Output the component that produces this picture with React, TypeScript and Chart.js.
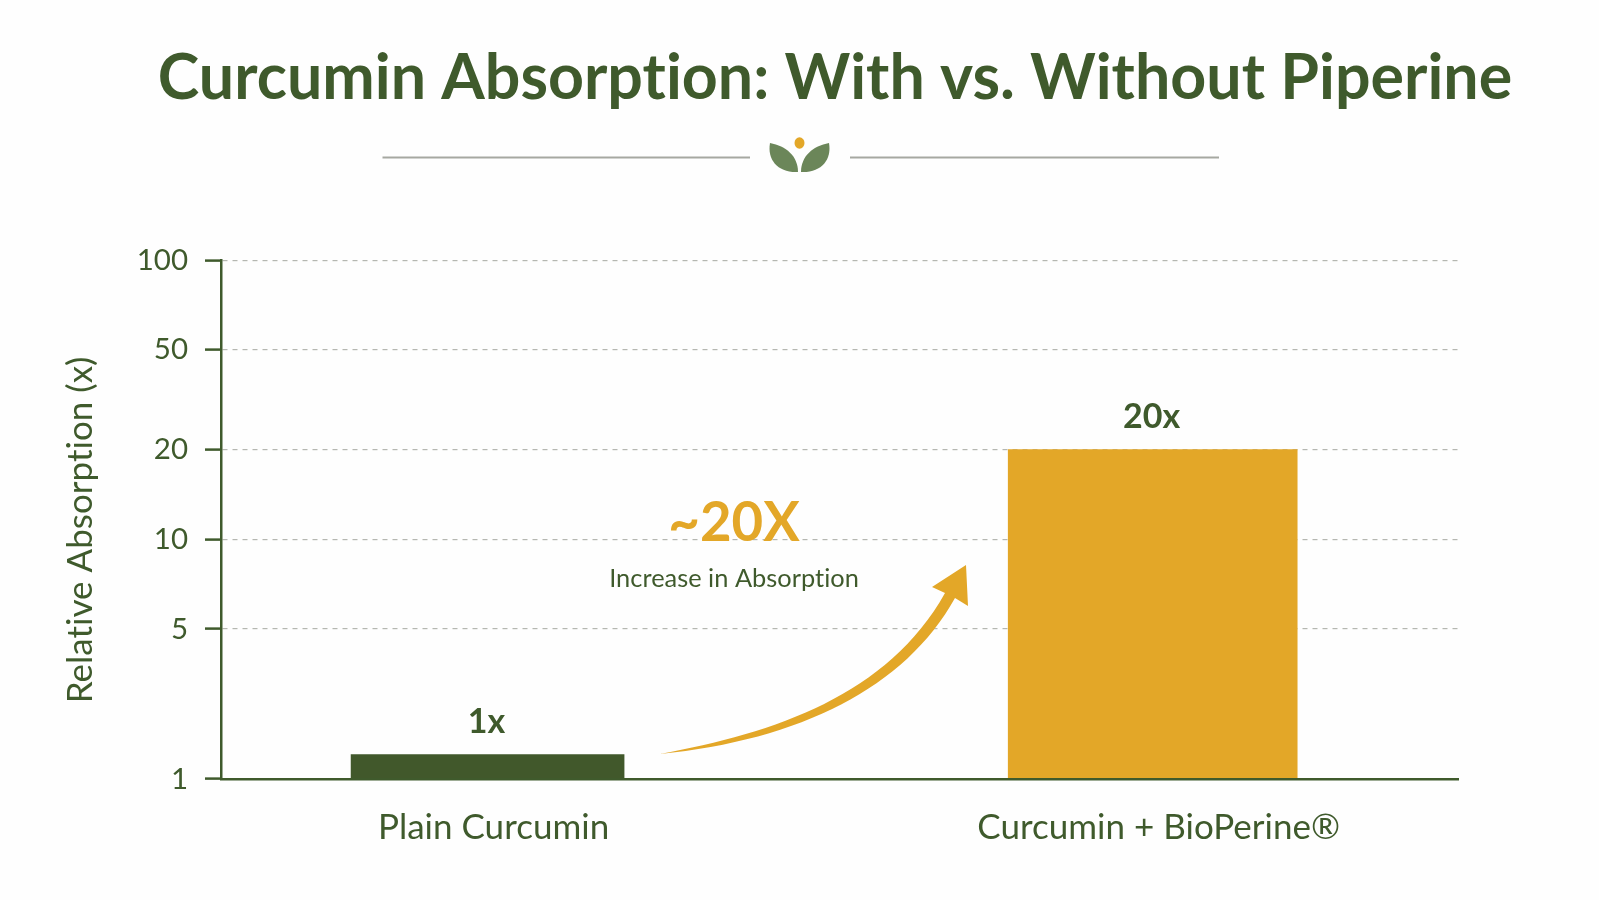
import React, { useEffect, useRef } from "react";
import { Chart, registerables, LogarithmicScale } from "chart.js";

Chart.register(...registerables);

const categories = ["Plain Curcumin", "Curcumin + BioPerine®"];
const categoryPositions = [0, 1];
const barValues = [1.3, 20];
const barLabels = ["1x", "20x"];
const yTicks = [1, 5, 10, 20, 50, 100];
// the source axis is hand-spaced, not strictly logarithmic: share of axis height per tick
const yTickShares = [0, 0.2893, 0.4625, 0.6357, 0.8285, 1];

const DARK = "#3f5a2c";
const GOLD = "#e3a728";
const FONT = "Lato, 'Open Sans', sans-serif";

class SpacedLogScale extends LogarithmicScale {
  static id = "spacedLog";
  static defaults = LogarithmicScale.defaults;
  getPixelForValue(value: number) {
    const v = Math.max(yTicks[0], Math.min(yTicks[yTicks.length - 1], value || yTicks[0]));
    let i = 0;
    while (i < yTicks.length - 2 && v > yTicks[i + 1]) i++;
    const f = (Math.log(v) - Math.log(yTicks[i])) / (Math.log(yTicks[i + 1]) - Math.log(yTicks[i]));
    return this.getPixelForDecimal(yTickShares[i] + f * (yTickShares[i + 1] - yTickShares[i]));
  }
  drawTitle() {
    const ctx = this.ctx;
    ctx.save();
    ctx.translate(0, 10);
    super.drawTitle();
    ctx.restore();
  }
}
Chart.register(SpacedLogScale);

const paperPlugin = {
  id: "paper",
  beforeDraw(chart: any) {
    const { ctx, width, height } = chart;
    // a non-zero spacing switches off Lato's "ti" ligature everywhere
    ctx.letterSpacing = "0.01px";
    ctx.save();
    ctx.fillStyle = "#fefefe";
    ctx.fillRect(0, 0, width, height);
    ctx.restore();
  },
};

const titleWidenPlugin = {
  id: "titleWiden",
  afterLayout(chart: any) {
    const t = chart.titleBlock;
    t.left = 35;
    t.right = 1635;
    t.width = 1600;
  },
};

const decorPlugin = {
  id: "decor",
  afterDatasetsDraw(chart: any) {
    const { ctx } = chart;
    ctx.save();
    // divider
    ctx.strokeStyle = "#a6a8a1";
    ctx.lineWidth = 1.8;
    ctx.beginPath();
    ctx.moveTo(382.5, 157.5);
    ctx.lineTo(750, 157.5);
    ctx.moveTo(850, 157.5);
    ctx.lineTo(1219, 157.5);
    ctx.stroke();
    // leaf mark
    ctx.fillStyle = "#6b8659";
    ctx.beginPath();
    ctx.moveTo(770, 143);
    ctx.bezierCurveTo(786, 146, 798, 156, 798, 172);
    ctx.bezierCurveTo(778, 173, 767, 160, 770, 143);
    ctx.closePath();
    ctx.fill();
    ctx.beginPath();
    ctx.moveTo(829, 143);
    ctx.bezierCurveTo(813, 146, 801, 156, 801, 172);
    ctx.bezierCurveTo(821, 173, 832, 160, 829, 143);
    ctx.closePath();
    ctx.fill();
    ctx.fillStyle = GOLD;
    ctx.beginPath();
    ctx.ellipse(799.5, 143, 5, 5.8, 0, 0, Math.PI * 2);
    ctx.fill();
    // value labels above the bars
    ctx.fillStyle = DARK;
    ctx.font = `700 34px ${FONT}`;
    ctx.textAlign = "center";
    ctx.textBaseline = "alphabetic";
    chart.data.datasets.forEach((_: any, i: number) => {
      const el = chart.getDatasetMeta(i).data[0];
      ctx.fillText(barLabels[i], el.x - 1, el.y - 22);
    });
    // callout
    ctx.fillStyle = GOLD;
    ctx.font = `700 54.5px ${FONT}`;
    ctx.fillText("~20X", 734, 541);
    ctx.fillStyle = DARK;
    ctx.font = `400 25.4px ${FONT}`;
    ctx.fillText("Increase in Absorption", 734, 587);
    // arrow
    ctx.fillStyle = GOLD;
    ctx.beginPath();
    ctx.moveTo(660, 754);
    ctx.bezierCurveTo(775, 733, 888, 695, 945, 593);
    ctx.lineTo(932, 587);
    ctx.lineTo(966, 565);
    ctx.lineTo(968, 606);
    ctx.lineTo(955, 598);
    ctx.bezierCurveTo(905, 688, 800, 740, 660, 754);
    ctx.closePath();
    ctx.fill();
    ctx.restore();
  },
};

export default function App() {
  const ref = useRef<HTMLCanvasElement>(null);
  useEffect(() => {
    const chart = new Chart(ref.current!, {
      type: "bar",
      data: {
        datasets: [
          {
            label: categories[0],
            data: [{ x: categoryPositions[0], y: barValues[0] }],
            backgroundColor: "#41582b",
            barThickness: 273,
            base: 1,
          },
          {
            label: categories[1],
            data: [{ x: categoryPositions[1], y: barValues[1] }],
            backgroundColor: GOLD,
            barThickness: 289,
            base: 1,
          },
        ],
      } as any,
      options: {
        responsive: false,
        animation: false,
        layout: { padding: { top: 0, left: 0, right: 141, bottom: 0 } },
        datasets: { bar: { grouped: false } },
        plugins: {
          legend: { display: false },
          tooltip: { enabled: false },
          title: {
            display: true,
            text: "Curcumin Absorption: With vs. Without Piperine",
            fullSize: false,
            color: DARK,
            font: { family: FONT, size: 62.7, weight: "700", lineHeight: 1.2 },
            padding: { top: 40.8, bottom: 144.7 },
          },
        },
        scales: {
          x: {
            type: "linear",
            min: -0.4008,
            max: 1.459,
            offset: false,
            grid: { display: false, offset: false },
            border: { color: DARK, width: 2.5, z: 1 },
            afterFit(s: any) {
              s.height = 121;
            },
            afterBuildTicks(s: any) {
              s.ticks = categoryPositions.map((value) => ({ value }));
            },
            ticks: {
              color: DARK,
              padding: 20,
              maxRotation: 0,
              autoSkip: false,
              labelOffset: 6,
              font: { family: FONT, size: 35 },
              callback: (v: any) => categories[v],
            },
          },
          y: {
            type: "spacedLog",
            min: 1,
            max: 100,
            afterFit(s: any) {
              s.width = 221;
            },
            afterBuildTicks(s: any) {
              s.ticks = yTicks.map((value) => ({ value }));
            },
            border: { color: DARK, width: 2.5, dash: [5, 5], z: 1 },
            grid: {
              z: -1,
              tickLength: 16,
              tickWidth: 2.5,
              tickColor: DARK,
              tickBorderDash: [],
              lineWidth: 1.2,
              color: (c: any) => (c.tick && c.tick.value === 1 ? "rgba(0,0,0,0)" : "#b5b7b1"),
            },
            ticks: {
              color: DARK,
              padding: 17,
              autoSkip: false,
              font: { family: FONT, size: 29.5 },
              callback: (v: any) => String(v),
            },
            title: {
              display: true,
              text: "Relative Absorption (x)",
              color: DARK,
              font: { family: FONT, size: 35 },
              padding: { top: 60, bottom: 0 },
            },
          },
        },
      } as any,
      plugins: [paperPlugin, titleWidenPlugin, decorPlugin],
    });
    return () => chart.destroy();
  }, []);
  return (
    <div style={{ position: "fixed", left: 0, top: 0, width: 1599, height: 900 }}>
      <canvas ref={ref} width={1599} height={900} style={{ display: "block" }} />
    </div>
  );
}
